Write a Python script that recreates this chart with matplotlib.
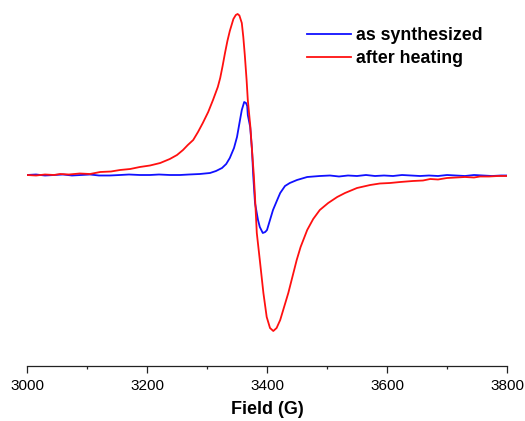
import matplotlib
matplotlib.use("Agg")
import matplotlib.pyplot as plt
from matplotlib.ticker import MultipleLocator

plt.rcParams['font.family'] = ['Liberation Sans', 'DejaVu Sans']

# Field (G) and intensity (arb. units)
red_field = [3000, 3015, 3030, 3045, 3055, 3070, 3088, 3105, 3122, 3140, 3155, 3172, 3188,
             3205, 3222, 3238, 3250, 3260, 3268, 3277, 3285, 3293, 3302, 3310, 3318,
             3322, 3326, 3330, 3334, 3338, 3344, 3348, 3351, 3354, 3358, 3360.5, 3363, 3366, 3368,
             3372, 3375, 3378, 3380, 3383, 3388, 3394, 3399.5, 3405, 3410.5, 3416,
             3422, 3427, 3435.5, 3444, 3449.5, 3456, 3467, 3477, 3488, 3502, 3517, 3530,
             3550, 3572, 3588, 3605, 3622, 3643, 3660, 3672, 3685, 3700, 3715, 3730,
             3745, 3755, 3770, 3785, 3800]
red_int = [0, -0.5, 0.5, 0, 1, 0.5, 1.5, 1, 3, 3.5, 5, 6, 8,
           9.5, 12, 16, 20, 25, 30, 35, 43, 52, 63, 75, 88,
           97, 109, 122, 134, 144, 156, 160, 161, 159.5, 152, 138, 120, 95, 75,
           50, 25, 0, -22, -58, -85, -118, -142, -153, -156, -153,
           -145, -135, -118, -98, -85, -72, -55, -44, -35, -28, -22, -18,
           -13, -10, -8.5, -8, -7, -6, -5.5, -4, -4.5, -3, -2.5, -2,
           -2.5, -1.5, -1.5, -1, -1]

blue_field = [3000, 3015, 3030, 3045, 3060, 3075, 3090, 3105, 3120, 3138, 3155, 3170,
              3188, 3205, 3220, 3238, 3255, 3270, 3288, 3305, 3315, 3325, 3332, 3338,
              3345, 3350, 3355, 3358, 3362, 3365, 3367, 3368, 3372, 3375, 3377, 3380,
              3385, 3388, 3393, 3397, 3400, 3405, 3410, 3417, 3422, 3430, 3438, 3450,
              3467, 3488, 3505, 3520, 3535, 3550, 3565, 3580, 3595, 3610, 3625, 3640,
              3655, 3670, 3685, 3700, 3715, 3730, 3745, 3760, 3775, 3790, 3800]
blue_int = [0, 0.5, -0.5, 0, 0.5, -0.5, 0, 0.5, -0.5, -0.5, 0, 0.5,
            0, 0, 0.5, 0, 0, 0.5, 1, 2, 4, 7, 11, 17,
            27, 38, 55, 65, 73, 72, 69, 60, 48, 25, 0, -28,
            -45, -52, -58, -57, -55, -45, -35, -25, -18, -11, -8, -5,
            -2, -1, -0.5, -1.5, -0.5, -1, 0, -1, -0.5, -1, 0, -0.5,
            -1, -0.5, -1, 0, -0.5, -1, 0, -0.5, -1, -0.5, -0.5]

fig = plt.figure(figsize=(5.25, 4.21), dpi=100)
ax = fig.add_axes([27/525, 55/421, 480/525, 366/421])

ax.plot(blue_field, blue_int, color='#1010ff', lw=1.3, label='as synthesized')
ax.plot(red_field, red_int, color='#ff1010', lw=1.3, label='after heating')

ax.set_xlim(3000, 3800)
ax.set_ylim(-191, 175)
for s in ['left', 'top', 'right']:
    ax.spines[s].set_visible(False)
ax.spines['bottom'].set_linewidth(0.9)
ax.spines['bottom'].set_color('#222222')
ax.set_yticks([])
ax.xaxis.set_major_locator(MultipleLocator(200))
ax.xaxis.set_minor_locator(MultipleLocator(100))
ax.tick_params(axis='x', which='major', length=5, width=0.9, direction='out',
               labelsize=11, pad=4, color='#222222')
ax.tick_params(axis='x', which='minor', length=2.5, width=0.9, direction='out',
               color='#222222')
ax.set_xlabel('Field (G)', fontsize=13, fontweight='bold', labelpad=6)

leg = ax.legend(loc='upper left', bbox_to_anchor=(307/525, 1 - 27/421),
                bbox_transform=fig.transFigure, frameon=False,
                prop={'weight': 'bold', 'size': 12.8}, handlelength=2.47,
                handletextpad=0.28, borderpad=0, borderaxespad=0, labelspacing=0.33)

fig.savefig('out.png', dpi=100)
